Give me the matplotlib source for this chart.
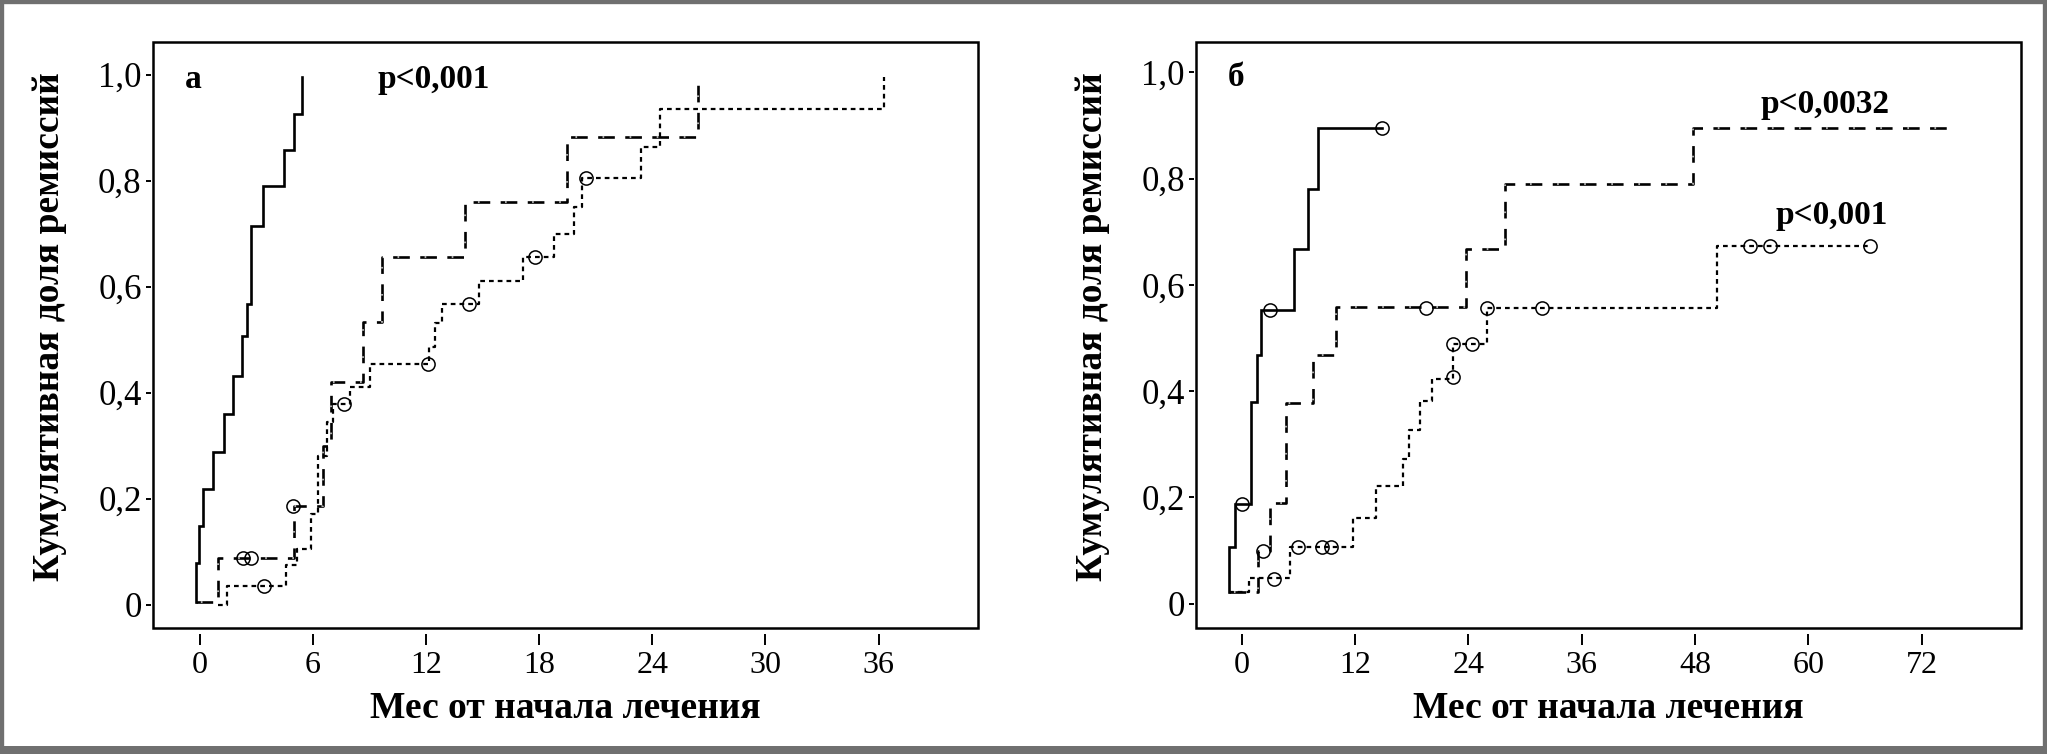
import numpy as np
import matplotlib
matplotlib.use('Agg')
import matplotlib.pyplot as plt
from matplotlib.patches import Rectangle

plt.rcParams['font.family'] = ['Liberation Serif', 'DejaVu Serif']
plt.rcParams['lines.scale_dashes'] = False

# ---- данные (мес, кумулятивная доля) ----
# панель а
solid_a_t = [-0.18, -0.18, -0.04, 0.18, 0.71, 1.27, 1.77, 2.21, 2.51, 2.69, 3.36, 4.46, 4.99, 5.43]
solid_a_v = [0.005, 0.079, 0.148, 0.218, 0.289, 0.359, 0.432, 0.507, 0.568, 0.715, 0.789, 0.857, 0.926, 0.995]
dash_a_t = [-0.18, 0.97, 4.99, 6.54, 6.98, 8.66, 9.64, 14.06, 19.45, 26.4]
dash_a_v = [0.005, 0.088, 0.186, 0.30, 0.42, 0.533, 0.655, 0.759, 0.882, 1.0]
dash_a_cens_t = [2.28, 2.69, 4.92]
dash_a_cens_v = [0.088, 0.088, 0.186]
dot_a_t = [0.97, 1.45, 4.56, 5.13, 5.92, 6.28, 6.72, 7.07, 7.96, 9.02, 12.17, 12.47,
           12.82, 14.82, 17.15, 18.8, 19.84, 20.25, 23.4, 24.4, 36.3]
dot_a_v = [0.0, 0.036, 0.075, 0.106, 0.172, 0.28, 0.345, 0.378, 0.411, 0.455, 0.487, 0.531,
           0.568, 0.610, 0.655, 0.700, 0.751, 0.805, 0.864, 0.935, 0.995]
dot_a_cens_t = [3.38, 7.64, 12.1, 14.3, 17.8, 20.5]
dot_a_cens_v = [0.036, 0.378, 0.455, 0.568, 0.655, 0.805]

# панель б
solid_b_t = [-1.3, -1.3, -0.71, 0.95, 1.59, 2.04, 5.54, 6.99, 8.05, 14.8]
solid_b_v = [0.021, 0.106, 0.187, 0.380, 0.468, 0.552, 0.668, 0.780, 0.895, 0.895]
solid_b_cens_t = [0.06, 3.0, 14.8]
solid_b_cens_v = [0.188, 0.552, 0.895]
dash_b_t = [-1.3, 1.69, 3.0, 4.7, 7.59, 9.95, 23.7, 27.9, 47.8, 74.9]
dash_b_v = [0.021, 0.10, 0.189, 0.378, 0.468, 0.558, 0.668, 0.79, 0.895, 0.895]
dash_b_cens_t = [2.29, 19.5]
dash_b_cens_v = [0.10, 0.556]
dot_b_t = [-1.3, 0.77, 5.12, 11.8, 14.2, 17.1, 17.75, 18.9, 20.1, 22.4, 25.95, 50.3, 66.5]
dot_b_v = [0.021, 0.048, 0.106, 0.161, 0.221, 0.272, 0.326, 0.382, 0.423, 0.488, 0.556, 0.674, 0.674]
dot_b_cens_t = [3.46, 6.0, 8.54, 9.46, 22.4, 22.4, 24.4, 26.0, 31.8, 53.8, 55.9, 66.5]
dot_b_cens_v = [0.047, 0.106, 0.106, 0.106, 0.426, 0.488, 0.488, 0.556, 0.556, 0.674, 0.674, 0.674]

yticks = [0, 0.2, 0.4, 0.6, 0.8, 1.0]
ytick_labels = ['0', '0,2', '0,4', '0,6', '0,8', '1,0']
xticks_a = [0, 6, 12, 18, 24, 30, 36]
xticks_b = [0, 12, 24, 36, 48, 60, 72]

xlab = 'Мес от начала лечения'
ylab = 'Кумулятивная доля ремиссий'

fig = plt.figure(figsize=(20.47, 7.54), dpi=100)
ax1 = fig.add_axes([0.0747, 0.167, 0.403, 0.777])
ax2 = fig.add_axes([0.5843, 0.167, 0.403, 0.777])


def solid(ax, t, v):
    ax.step(t, v, where='post', color='black', lw=1.9, solid_joinstyle='miter')


def dashdot(ax, t, v):
    ax.step(t, v, where='post', color='black', lw=1.9, linestyle=(0, (12, 7.5)))
    ax.step(t, v, where='post', color='#b0b0b0', lw=1.5, linestyle=(16, (1.2, 18.3)))


def dotted(ax, t, v):
    ax.step(t, v, where='post', color='black', lw=1.6, linestyle=(0, (3.4, 2.9)))


def cens(ax, t, v):
    ax.plot(t, v, 'o', ms=9.5, mfc='none', mec='black', mew=1.1)


def style(ax, xlim, ylim, xticks):
    ax.set_xlim(*xlim)
    ax.set_ylim(*ylim)
    ax.set_xticks(xticks)
    ax.set_xticklabels([str(x) for x in xticks])
    ax.set_yticks(yticks)
    ax.set_yticklabels(ytick_labels)
    for s in ax.spines.values():
        s.set_edgecolor('none')
    ax.spines['bottom'].set_position(('outward', 4.5))
    ax.spines['left'].set_position(('outward', 1.5))
    ax.add_patch(Rectangle((0, 0), 1, 1, transform=ax.transAxes, fill=False,
                           edgecolor='black', lw=1.8, clip_on=False, zorder=5))
    ax.tick_params(axis='x', direction='out', length=8, width=1.4, pad=4, labelsize=23)
    ax.tick_params(axis='y', direction='out', length=3.6, width=1.4, pad=3, labelsize=25)
    ax.set_xlabel(xlab, fontsize=27, fontweight='bold')
    ax.xaxis.set_label_coords(0.5, -0.138)
    ax.xaxis.label.set_va('center')
    ax.set_ylabel(ylab, fontsize=27, fontweight='bold')
    ax.yaxis.set_label_coords(-0.125, 0.515)
    ax.yaxis.label.set_va('center')


# а
solid(ax1, solid_a_t, solid_a_v)
dashdot(ax1, dash_a_t, dash_a_v)
dotted(ax1, dot_a_t, dot_a_v)
cens(ax1, dash_a_cens_t, dash_a_cens_v)
cens(ax1, dot_a_cens_t, dot_a_cens_v)
style(ax1, (-2.49, 41.27), (-0.044, 1.061), xticks_a)
ax1.text(-0.37, 0.99, 'а', fontsize=24, fontweight='bold', ha='center', va='center')
ax1.text(12.4, 0.99, 'p<0,001', fontsize=24, fontweight='bold', ha='center', va='center')

# б
solid(ax2, solid_b_t, solid_b_v)
dashdot(ax2, dash_b_t, dash_b_v)
dotted(ax2, dot_b_t, dot_b_v)
cens(ax2, solid_b_cens_t, solid_b_cens_v)
cens(ax2, dash_b_cens_t, dash_b_cens_v)
cens(ax2, dot_b_cens_t, dot_b_cens_v)
style(ax2, (-4.84, 82.5), (-0.046, 1.057), xticks_b)
ax2.text(-0.6, 0.99, 'б', fontsize=24, fontweight='bold', ha='center', va='center')
ax2.text(61.8, 0.94, 'p<0,0032', fontsize=24, fontweight='bold', ha='center', va='center')
ax2.text(62.5, 0.731, 'p<0,001', fontsize=24, fontweight='bold', ha='center', va='center')

# серая рамка вокруг рисунка
fig.patches.append(Rectangle((0, 0), 1, 1, transform=fig.transFigure, fill=False,
                             edgecolor='#707070', lw=6))
fig.patches.append(Rectangle((0, 0), 1, 8 / 754, transform=fig.transFigure,
                             facecolor='#707070', edgecolor='none'))

fig.savefig('out.png', dpi=100)
